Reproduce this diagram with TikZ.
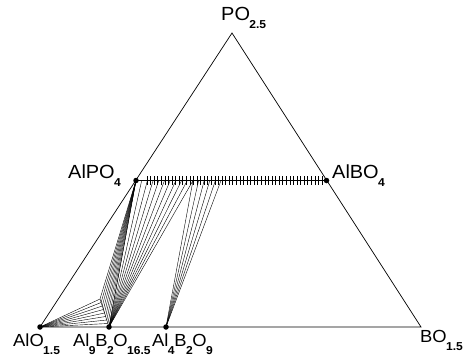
\documentclass[tikz,border=0pt]{standalone}
\usepackage{fontspec}
\setmainfont[FakeStretch=1.05]{Liberation Sans}
\newcommand\lblsub[1]{\kern-0.6pt\raisebox{-8pt}{\fontsize{11.5}{11.5}\selectfont\bfseries #1}\kern-0.3pt}
\newcommand\lblfont{\fontsize{19}{19}\selectfont}
\newcommand\botfont{\fontsize{17.5}{17.5}\selectfont}
\begin{document}
\begin{tikzpicture}[x=1pt,y=-1pt,
  edge/.style={line width=0.7pt},
  tie/.style={line width=0.4pt},
  tick/.style={line width=0.45pt},
  dot/.style={circle,fill,inner sep=0pt,minimum size=5.5pt},
  lbl/.style={anchor=base west,inner sep=0pt,font=\lblfont},
  blbl/.style={anchor=base west,inner sep=0pt,font=\botfont}]
\useasboundingbox (0,0) rectangle (471,356);
% vertices
\coordinate (PO) at (232,33);
\coordinate (AlO) at (40,327);
\coordinate (BO) at (421,327);
\coordinate (AlPO) at (136,180.5);
\coordinate (AlBO) at (326.5,180.5);
\coordinate (A9) at (109,327);
\coordinate (A4) at (166,327);
% triangle
\draw[edge] (AlO) -- (PO) -- (BO) -- (AlO);
% AlPO4 - AlBO4 solid solution with ticks
\draw[edge] (AlPO) -- (AlBO);
\foreach \i in {0,...,49}{
  \pgfmathsetmacro\xx{147+\i*3.57}
  \draw[tick] (\xx,176) -- (\xx,185);
}
% Al9B2O16.5 solid solution points
\foreach \k in {0,...,8}{
  \coordinate (S\k) at ({100+9*\k/8},{299+28*\k/8});
}
\draw[tie] (S0) -- (A9);
\foreach \k in {0,...,7}{ \draw[tie] (AlO) -- (S\k); }
\foreach \k in {0,...,8}{ \draw[tie] (AlPO) -- (S\k); }
% fan from Al9B2O16.5
\foreach \k in {0,...,10}{
  \coordinate (T\k) at ({136+5.7*\k},180.5);
  \draw[tie] (A9) -- (T\k);
}
% fan from Al4B2O9
\foreach \k in {0,...,5}{
  \coordinate (U\k) at ({193+5.6*\k},180.5);
  \draw[tie] (A4) -- (U\k);
}
% dots
\node[dot] (dAlO) at (AlO) {};
\node[dot] (dA9) at (A9) {};
\node[dot] (dA4) at (A4) {};
\node[dot] (dAlPO) at (AlPO) {};
\node[dot] (dAlBO) at (AlBO) {};
% labels
\node[lbl] (lPO) at (221,20) {PO\lblsub{2.5}};
\node[lbl] (lAlPO) at (68,178) {AlPO\lblsub{4}};
\node[lbl] (lAlBO) at (332,178) {AlBO\lblsub{4}};
\node[blbl] (lAlO) at (13,346) {AlO\lblsub{1.5}};
\node[blbl] (lA9) at (73,346) {Al\lblsub{9}B\lblsub{2}O\lblsub{16.5}};
\node[blbl] (lA4) at (152,346) {Al\lblsub{4}B\lblsub{2}O\lblsub{9}};
\node[blbl] (lBO) at (420,342) {BO\lblsub{1.5}};
\end{tikzpicture}
\end{document}
